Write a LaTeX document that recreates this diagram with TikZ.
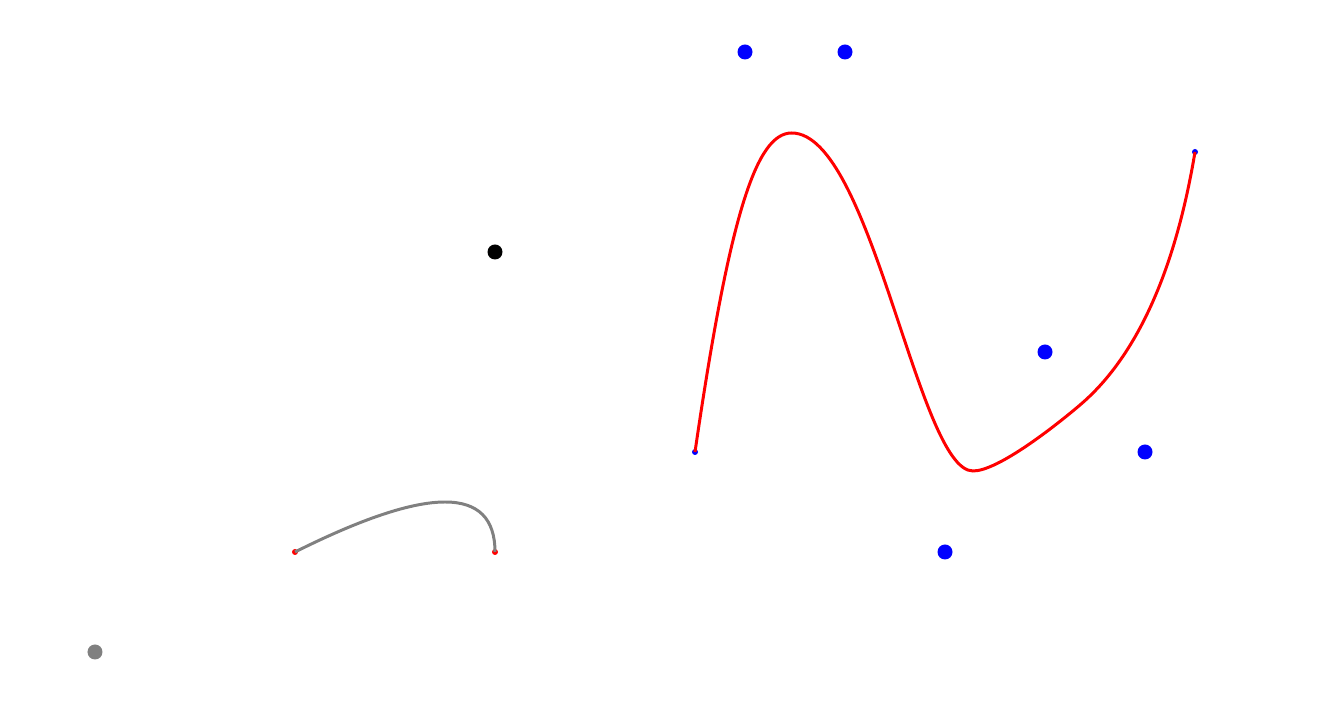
\documentclass[tikz,border=0pt]{standalone}
\begin{document}
\begin{tikzpicture}[x=1cm,y=1cm,
  bigdot/.style={radius=0.075},
  smalldot/.style={radius=0.03},
  curveline/.style={line width=0.85pt}]
\useasboundingbox (-0.95,-0.55) rectangle (12.32,6.52);
% points
\coordinate (g) at (0,0);
\coordinate (k) at (4,4);
\coordinate (ga) at (2,1);
\coordinate (gb) at (4,1);
\coordinate (p0) at (6,2);
\coordinate (p1) at (6.5,6);
\coordinate (p2) at (7.5,6);
\coordinate (p3) at (8.5,1);
\coordinate (p4) at (9.5,3);
\coordinate (p5) at (10.5,2);
\coordinate (p6) at (11,5);
% curve junctions
\coordinate (top) at (6.967,5.19);
\coordinate (low) at (8.78,1.81);
\coordinate (mid) at (9.85,2.47);
% big dots
\fill[gray] (g) circle[bigdot];
\fill[black] (k) circle[bigdot];
\foreach \p in {p1,p2,p3,p4,p5} \fill[blue] (\p) circle[bigdot];
% small end dots
\fill[red] (ga) circle[smalldot];
\fill[red] (gb) circle[smalldot];
\fill[blue] (p0) circle[smalldot];
\fill[blue] (p6) circle[smalldot];
% gray curve (quadratic through control (4,2))
\draw[gray,curveline] (ga) .. controls (3.33333,1.66667) and (4,1.66667) .. (gb);
% red curve
\draw[red,curveline] (p0) .. controls (6.35,4.4) and (6.617,5.19) .. (top)
  .. controls (7.767,5.19) and (8.23,1.81) .. (low)
  .. controls (9.03,1.81) and (9.6,2.2575) .. (mid)
  .. controls (10.25,2.81) and (10.75,3.5) .. (p6);
\end{tikzpicture}
\end{document}
